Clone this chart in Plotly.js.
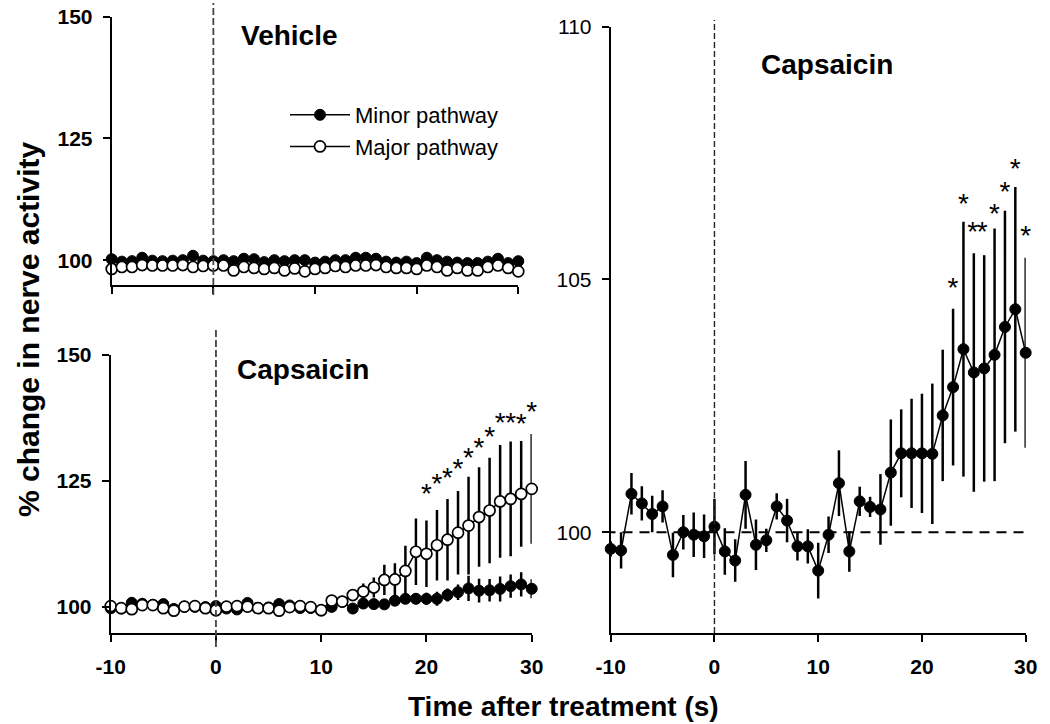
<!DOCTYPE html>
<html>
<head>
<meta charset="utf-8">
<script src="https://cdn.plot.ly/plotly-3.0.1.min.js"></script>
<style>html,body{margin:0;padding:0;background:#fff;}#chart{width:1050px;height:724px;}</style>
</head>
<body>
<div id="chart"></div>
<script>
// ---- data ----
const time = [-10,-9,-8,-7,-6,-5,-4,-3,-2,-1,0,1,2,3,4,5,6,7,8,9,10,11,12,13,14,15,16,17,18,19,20,21,22,23,24,25,26,27,28,29,30];

// Vehicle panel
const vehicleMinor = [100.2,99.7,99.8,100.5,99.9,99.8,99.9,100.0,100.9,99.9,99.8,100.0,99.8,100.3,100.2,99.6,100.0,99.8,100.0,100.0,99.5,99.7,100.0,100.0,100.5,100.5,100.3,99.7,99.5,99.7,99.4,100.5,100.0,99.7,99.5,99.4,99.4,99.7,100.3,99.4,99.8];
const vehicleMajor = [98.2,98.6,98.6,99.0,98.9,98.9,98.9,99.0,98.6,98.8,98.9,98.9,97.9,98.6,98.4,98.2,98.4,97.9,98.3,97.7,98.2,98.4,98.8,98.6,98.9,98.9,99.0,98.6,98.4,98.4,98.2,98.9,98.6,97.9,98.4,97.9,97.9,98.6,98.9,98.4,97.7];

// Capsaicin: minor pathway (same series in both capsaicin panels)
const capsMinor = [99.67,99.64,100.76,100.57,100.36,100.51,99.55,100.0,99.95,99.92,100.11,99.62,99.44,100.74,99.75,99.84,100.51,100.23,99.72,99.72,99.24,99.95,100.97,99.62,100.61,100.50,100.45,101.18,101.56,101.56,101.56,101.55,102.31,102.87,103.62,103.16,103.24,103.51,104.06,104.41,103.55];
const capsMinorErr = [0.15,0.36,0.41,0.34,0.36,0.32,0.44,0.34,0.44,0.43,0.55,0.46,0.42,0.67,0.50,0.23,0.26,0.43,0.28,0.34,0.55,0.36,0.65,0.40,0.29,0.20,0.70,1.05,0.87,1.08,1.18,1.39,1.30,1.55,2.52,2.36,2.24,2.50,2.30,2.42,1.88];

// Capsaicin: major pathway
const capsMajor = [100.1,99.7,99.5,100.3,100.3,99.7,99.2,100.0,100.1,99.7,99.3,100.0,100.1,100.0,99.7,99.7,99.2,99.9,100.1,99.9,99.3,101.2,101.0,102.3,103.0,103.8,105.3,105.4,107.1,110.9,110.5,112.2,113.3,114.7,116.1,117.8,119.1,120.9,121.4,122.4,123.4];
const capsMajorErr = [0.4,0.4,0.4,0.4,0.4,0.4,0.4,0.4,0.4,0.4,0.4,0.4,0.4,0.4,0.4,0.4,0.4,0.4,0.4,0.4,0.5,0.8,0.8,1.0,1.6,2.0,3.0,3.2,5.0,6.6,6.6,7.0,8.1,8.3,9.7,9.9,10.5,11.2,11.4,10.5,10.9];

// significance asterisks
const starsLeftX = [20,21,22,23,24,25,26,27,28,29,30];
const starsLeftY = [121.9,124.0,125.2,127.0,129.2,131.2,133.3,136.1,136.1,135.9,138.2];
const starsRightX = [23,24,24.9,25.8,27,28,29,30];
const starsRightY = [104.8,106.45,105.89,105.89,106.25,106.69,107.15,105.81];

const xTicks = [-10,0,10,20,30];
const yTicksLeft = [100,125,150];
const yTicksRight = [100,105,110];

// ---- styles ----
const FONT = 'Liberation Sans, Arial, sans-serif';
const filledMarker = {symbol:'circle', size:11, color:'#000', line:{color:'#000', width:1}};
const openMarker = {symbol:'circle', size:11, color:'#fff', line:{color:'#000', width:1.7}};
const lineStyle = {color:'#000', width:1.5};

const traces = [
  {x:time, y:vehicleMinor, xaxis:'x', yaxis:'y', mode:'lines+markers', name:'Minor pathway',
   marker:filledMarker, line:lineStyle, cliponaxis:false, legendrank:1},
  {x:time, y:vehicleMajor, xaxis:'x', yaxis:'y', mode:'lines+markers', name:'Major pathway',
   marker:openMarker, line:lineStyle, cliponaxis:false, legendrank:2},
  {x:time, y:capsMinor, xaxis:'x2', yaxis:'y2', mode:'lines+markers', showlegend:false,
   marker:filledMarker, line:lineStyle, cliponaxis:false,
   error_y:{type:'data', array:capsMinorErr, visible:true, width:0, thickness:2.5, color:'#000'}},
  {x:time, y:capsMajor, xaxis:'x2', yaxis:'y2', mode:'lines+markers', showlegend:false,
   marker:openMarker, line:lineStyle, cliponaxis:false,
   error_y:{type:'data', array:capsMajorErr, visible:true, width:0, thickness:2.5, color:'#000'}},
  {x:starsLeftX, y:starsLeftY, xaxis:'x2', yaxis:'y2', mode:'text', text:starsLeftX.map(()=> '*'),
   textposition:'middle center', textfont:{family:FONT, size:28, color:'#000'}, showlegend:false, cliponaxis:false},
  {x:time, y:capsMinor, xaxis:'x3', yaxis:'y3', mode:'lines+markers', showlegend:false,
   marker:Object.assign({}, filledMarker, {size:11}), line:lineStyle, cliponaxis:false,
   error_y:{type:'data', array:capsMinorErr, visible:true, width:0, thickness:2.5, color:'#000'}},
  {x:starsRightX, y:starsRightY, xaxis:'x3', yaxis:'y3', mode:'text', text:starsRightX.map(()=> '*'),
   textposition:'middle center', textfont:{family:FONT, size:28, color:'#000'}, showlegend:false, cliponaxis:false}
];

function xAxis(domain, anchor, showLabels){
  return {domain:domain, anchor:anchor, range:[-10,30], tickvals:xTicks, ticktext:xTicks.map(String),
    showticklabels:showLabels, showline:true, linecolor:'#000', linewidth:2, mirror:false,
    ticks:'outside', ticklen:7, tickwidth:2, tickcolor:'#000', showgrid:false, zeroline:false,
    ticklabelstandoff:6, tickfont:{family:FONT, size:21, color:'#000', weight:'bold'}};
}
function yAxis(domain, anchor, range, vals, bold){
  return {domain:domain, anchor:anchor, range:range, tickvals:vals, ticktext:vals.map(String),
    showline:true, linecolor:'#000', linewidth:2, ticks:'outside', ticklen:7, tickwidth:2, tickcolor:'#000',
    showgrid:false, zeroline:false, ticklabelstandoff:6,
    tickfont:{family:FONT, size:21, color:'#000', weight: bold ? 'bold' : 'normal'}};
}

const W = 1050, H = 724;
const px = v => v / W;
const py = v => 1 - v / H;

function label(text, x, y, angle, size){
  return {text:text, xref:'paper', yref:'paper', x:px(x), y:py(y), xanchor:'center', yanchor:'middle',
    textangle:angle || 0, showarrow:false, font:{family:FONT, size:size || 28, color:'#000', weight:'bold'}};
}

const layout = {
  width:W, height:H, margin:{l:0, r:0, t:0, b:0},
  paper_bgcolor:'#fff', plot_bgcolor:'rgba(0,0,0,0)',
  font:{family:FONT, color:'#000'},
  xaxis: xAxis([px(111.7), px(518.3)], 'y', false),
  yaxis: yAxis([py(285), py(16.7)], 'x', [94.9,150], yTicksLeft, true),
  xaxis2: xAxis([px(110.7), px(531.7)], 'y2', true),
  yaxis2: yAxis([py(633.3), py(355)], 'x2', [94.7,150], yTicksLeft, true),
  xaxis3: xAxis([px(610.7), px(1025.7)], 'y3', true),
  yaxis3: yAxis([py(633.3), py(26.7)], 'x3', [98,110], yTicksRight, false),
  showlegend:true,
  legend:{x:px(285), y:py(94), xanchor:'left', yanchor:'top', bgcolor:'rgba(0,0,0,0)',
    font:{family:FONT, size:22, color:'#000'}, itemwidth:60, tracegroupgap:0, traceorder:'normal'},
  shapes:[
    {type:'line', xref:'x', yref:'paper', x0:0, x1:0, y0:py(295), y1:py(3), line:{color:'#444', width:1.8, dash:'7px,3px'}},
    {type:'line', xref:'x2', yref:'paper', x0:0, x1:0, y0:py(647), y1:py(330), line:{color:'#444', width:1.8, dash:'7px,3px'}},
    {type:'line', xref:'x3', yref:'paper', x0:0, x1:0, y0:py(633), y1:py(20), line:{color:'#222', width:1.4, dash:'6px,3px'}},
    {type:'line', xref:'x3', yref:'y3', x0:-10.5, x1:30.3, y0:100, y1:100, line:{color:'#000', width:2, dash:'10px,7px'}}
  ],
  annotations:[
    label('Vehicle', 289, 35),
    label('Capsaicin', 303, 369),
    label('Capsaicin', 827, 64),
    label('% change in nerve activity', 28, 330, -90, 30),
    label('Time after treatment (s)', 563, 706)
  ]
};

Plotly.newPlot('chart', traces, layout, {displayModeBar:false, staticPlot:true});
</script>
</body>
</html>
